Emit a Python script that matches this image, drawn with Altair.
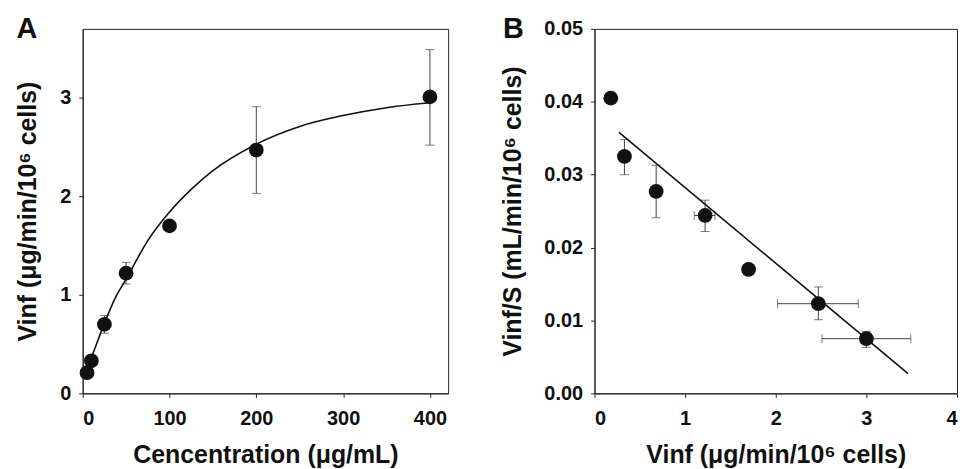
import altair as alt
import pandas as pd

# ---- Panel A data ----
conc = [5, 10, 25, 50, 100, 200, 400]
vinf = [0.21, 0.33, 0.70, 1.22, 1.70, 2.47, 3.01]
vinf_lo = [0.19, 0.31, 0.61, 1.11, 1.66, 2.03, 2.52]
vinf_hi = [0.23, 0.35, 0.79, 1.33, 1.74, 2.91, 3.49]

curve_x = [3, 10, 25, 37, 50, 75, 100, 125, 150, 200, 250, 300, 350, 400]
curve_y = [0.20, 0.36, 0.71, 0.96, 1.16, 1.55, 1.84, 2.07, 2.26, 2.53, 2.71, 2.82, 2.90, 2.95]

# ---- Panel B data ----
b_x = [0.18, 0.33, 0.68, 1.22, 1.70, 2.47, 3.00]
b_y = [0.0405, 0.0325, 0.0277, 0.0244, 0.0170, 0.0123, 0.0075]
b_y_lo = [0.0403, 0.0300, 0.0241, 0.0222, 0.0168, 0.0101, 0.0063]
b_y_hi = [0.0407, 0.0348, 0.0313, 0.0265, 0.0172, 0.0146, 0.0085]
b_x_lo = [0.17, 0.32, 0.66, 1.10, 1.68, 2.02, 2.51]
b_x_hi = [0.19, 0.34, 0.70, 1.33, 1.72, 2.91, 3.49]

line_x = [0.27, 3.46]
line_y = [0.0358, 0.0027]

FONT = "Liberation Sans"
INK = "#111111"
BAR = "#444444"

dfA = pd.DataFrame({"c": conc, "v": vinf, "lo": vinf_lo, "hi": vinf_hi})
dfAc = pd.DataFrame({"c": curve_x, "v": curve_y})
dfB = pd.DataFrame({"x": b_x, "y": b_y, "ylo": b_y_lo, "yhi": b_y_hi,
                    "xlo": b_x_lo, "xhi": b_x_hi})
dfBl = pd.DataFrame({"x": line_x, "y": line_y})

scAx = alt.Scale(domain=[0, 421], nice=False, zero=False)
scAy = alt.Scale(domain=[0, 3.7], nice=False)
axAx = alt.Axis(values=[0, 100, 200, 300, 400], title="Cencentration (μg/mL)")
axAy = alt.Axis(values=[0, 1, 2, 3], title="Vinf (μg/min/10⁶ cells)", titlePadding=19)

xA = alt.X("c:Q", scale=scAx, axis=axAx)
yA = alt.Y("v:Q", scale=scAy, axis=axAy)

errA = alt.Chart(dfA).mark_errorbar(ticks=True, size=9, thickness=1, color=BAR).encode(
    x=xA, y=alt.Y("lo:Q", scale=scAy, axis=axAy), y2="hi:Q")
curveA = alt.Chart(dfAc).mark_line(color=INK, strokeWidth=1.6, interpolate="monotone").encode(x=xA, y=yA)
ptsA = alt.Chart(dfA).mark_circle(size=220, color=INK, opacity=1).encode(x=xA, y=yA)
labA = alt.Chart(pd.DataFrame({"t": ["A"]})).mark_text(
    font=FONT, fontWeight="bold", fontSize=29, color=INK, align="left", baseline="alphabetic"
).encode(x=alt.value(-66.5), y=alt.value(9), text="t:N")

panelA = alt.layer(errA, curveA, ptsA, labA).properties(width=367, height=366)

scBx = alt.Scale(domain=[0, 4], nice=False)
scBy = alt.Scale(domain=[0, 0.05], nice=False)
axBx = alt.Axis(values=[0, 1, 2, 3, 4], title="Vinf (μg/min/10⁶ cells)")
axBy = alt.Axis(values=[0, 0.01, 0.02, 0.03, 0.04, 0.05], format=".2f",
                title="Vinf/S (mL/min/10⁶ cells)", titlePadding=18)
xB = alt.X("x:Q", scale=scBx, axis=axBx)
yB = alt.Y("y:Q", scale=scBy, axis=axBy)

errBy = alt.Chart(dfB).mark_errorbar(ticks=True, size=9, thickness=1, color=BAR).encode(
    x=xB, y=alt.Y("ylo:Q", scale=scBy, axis=axBy), y2="yhi:Q")
errBx = alt.Chart(dfB).mark_errorbar(ticks=True, size=9, thickness=1, color=BAR).encode(
    y=yB, x=alt.X("xlo:Q", scale=scBx, axis=axBx), x2="xhi:Q")
lineB = alt.Chart(dfBl).mark_line(color=INK, strokeWidth=1.6).encode(x=xB, y=yB)
ptsB = alt.Chart(dfB).mark_circle(size=220, color=INK, opacity=1).encode(x=xB, y=yB)
labB = alt.Chart(pd.DataFrame({"t": ["B"]})).mark_text(
    font=FONT, fontWeight="bold", fontSize=29, color=INK, align="left", baseline="alphabetic"
).encode(x=alt.value(-92), y=alt.value(9), text="t:N")

panelB = alt.layer(errBy, errBx, lineB, ptsB, labB).properties(width=364, height=366)

chart = alt.hconcat(panelA, panelB, spacing=51).properties(
    padding={"left": 7, "top": 5, "right": 0, "bottom": 0}
).configure_view(
    stroke="#222222", strokeWidth=1
).configure_axis(
    grid=False, domainColor="#222222", domainWidth=1, tickColor="#222222", tickSize=4,
    labelFont=FONT, labelFontWeight="bold", labelFontSize=20, labelColor=INK,
    titleFont=FONT, titleFontWeight="bold", titleFontSize=25, titleColor=INK,
).configure_axisX(labelPadding=11, titlePadding=14
).configure_axisY(labelPadding=8)

chart.save("out.html", embed_options={"renderer": "svg", "actions": False})
